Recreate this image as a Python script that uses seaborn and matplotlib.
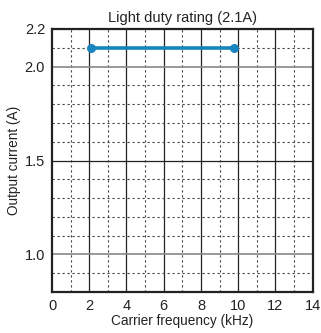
import matplotlib
matplotlib.use("Agg")
import matplotlib.pyplot as plt
import seaborn as sns
import pandas as pd
import numpy as np

freq_khz = [2.1, 9.75]
current_a = [2.1, 2.1]
x_ticks = [0, 2, 4, 6, 8, 10, 12, 14]
y_ticks = [1.0, 1.5, 2.0, 2.2]
y_labels = ["1.0", "1.5", "2.0", "2.2"]

sns.set_style("white")
plt.rcParams['font.family'] = ['Liberation Sans', 'DejaVu Sans']

fig = plt.figure(figsize=(3.21, 3.33), dpi=100)
ax = fig.add_axes([0.162, 0.123, 0.812, 0.79])

df = pd.DataFrame({"f": freq_khz, "i": current_a})

# grid
for xv in np.arange(1, 14, 2):
    ax.axvline(xv, color="#444444", lw=0.8, ls=(0, (2, 2.5)), zorder=1)
for xv in np.arange(2, 14, 2):
    ax.axvline(xv, color="#222222", lw=0.9, zorder=1)
for yv in np.arange(0.9, 2.2, 0.1):
    if abs(yv - round(yv * 2) / 2) > 1e-6:
        ax.axhline(yv, color="#444444", lw=0.8, ls=(0, (2, 2.5)), zorder=1)
ax.axhline(2.0, color="#888888", lw=1.2, zorder=1)
ax.axhline(1.5, color="#222222", lw=0.9, zorder=1)
ax.axhline(1.0, color="#888888", lw=1.2, zorder=1)

sns.lineplot(data=df, x="f", y="i", ax=ax, color="#1985bf", lw=2.6,
             marker="o", markersize=6.5, markeredgewidth=0, zorder=3)

ax.set_xlim(0, 14)
ax.set_ylim(0.8, 2.2)
ax.set_xticks(x_ticks)
ax.set_yticks(y_ticks)
ax.set_yticklabels(y_labels)
ax.tick_params(axis="both", length=0, labelsize=10.5, pad=5, colors="#222222")
ax.set_xlabel("Carrier frequency (kHz)", fontsize=9.8, labelpad=1, color="#222222")
ax.set_ylabel("Output current (A)", fontsize=9.8, labelpad=3, color="#222222")
ax.set_title("Light duty rating (2.1A)", fontsize=10.5, pad=5, color="#222222")
for s in ax.spines.values():
    s.set_color("#222222")
    s.set_linewidth(1.6)
    s.set_visible(True)

fig.savefig("out.png", dpi=100)
